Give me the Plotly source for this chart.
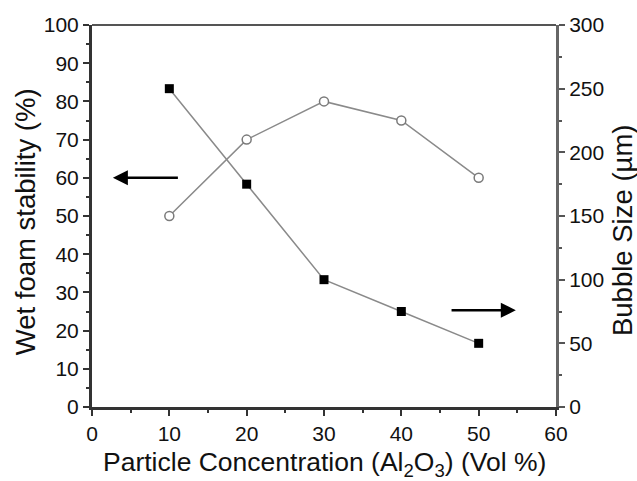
import plotly.graph_objects as go

concentration = [10, 20, 30, 40, 50]
wet_foam_stability = [50, 70, 80, 75, 60]
bubble_size = [250, 175, 100, 75, 50]

x_title = "Particle Concentration (Al<sub>2</sub>O<sub>3</sub>) (Vol %)"
y_title = "Wet foam stability (%)"
y2_title = "Bubble Size (\u00b5m)"

FONT = "Liberation Sans, Arial, sans-serif"

fig = go.Figure()
fig.add_trace(go.Scatter(
    x=concentration, y=wet_foam_stability, mode="lines+markers",
    line=dict(color="#8a8a8a", width=1.5),
    marker=dict(symbol="circle", size=9, color="white", line=dict(color="#7a7a7a", width=1.5)),
    showlegend=False, yaxis="y", cliponaxis=False))
fig.add_trace(go.Scatter(
    x=concentration, y=bubble_size, mode="lines+markers",
    line=dict(color="#8a8a8a", width=1.5),
    marker=dict(symbol="square", size=9, color="black", line=dict(color="black", width=0)),
    showlegend=False, yaxis="y2", cliponaxis=False))

tickfont = dict(family=FONT, size=21, color="#111")

fig.update_layout(
    width=637, height=481,
    margin=dict(l=92, r=81, t=25, b=74, autoexpand=False),
    paper_bgcolor="white", plot_bgcolor="white",
    xaxis=dict(range=[0, 60], dtick=10, tick0=0, showgrid=False, zeroline=False,
               showline=True, linecolor="#333", linewidth=3, automargin=False,
               ticks="outside", ticklen=6, tickwidth=2, tickcolor="#333",
               minor=dict(dtick=5, ticks="outside", ticklen=3, tickwidth=2, tickcolor="#333"),
               tickfont=tickfont),
    yaxis=dict(range=[0, 100], dtick=10, tick0=0, showgrid=False, zeroline=False,
               showline=True, linecolor="#333", linewidth=3, automargin=False,
               ticks="outside", ticklen=6, tickwidth=2, tickcolor="#333",
               minor=dict(dtick=5, ticks="outside", ticklen=3, tickwidth=2, tickcolor="#333"),
               tickfont=tickfont),
    yaxis2=dict(range=[0, 300], dtick=50, tick0=0, overlaying="y", side="right",
                showgrid=False, zeroline=False, automargin=False,
                showline=True, linecolor="#666", linewidth=3,
                ticks="outside", ticklen=6, tickwidth=2, tickcolor="#555",
                minor=dict(dtick=25, ticks="outside", ticklen=3, tickwidth=2, tickcolor="#555"),
                tickfont=tickfont),
)

# axis titles
fig.add_annotation(text=x_title, xref="paper", yref="paper", x=0.5, y=-0.148,
                   xanchor="center", yanchor="middle", showarrow=False,
                   font=dict(family=FONT, size=26.5, color="#111"))
fig.add_annotation(text=y_title, xref="paper", yref="paper", x=-0.144, y=0.484,
                   xanchor="center", yanchor="middle", showarrow=False, textangle=-90,
                   font=dict(family=FONT, size=27.5, color="#111"))
fig.add_annotation(text=y2_title, xref="paper", yref="paper", x=1.142, y=0.463,
                   xanchor="center", yanchor="middle", showarrow=False, textangle=-90,
                   font=dict(family=FONT, size=27.5, color="#111"))

# top frame line
fig.add_shape(type="line", xref="paper", yref="paper", x0=0, x1=1, y0=1, y1=1,
              line=dict(color="#555", width=2))

# arrows
fig.add_annotation(x=2.7, y=60, ax=11.3, ay=60, xref="x", yref="y", axref="x", ayref="y",
                   showarrow=True, arrowhead=2, arrowsize=1.2, arrowwidth=2.5,
                   arrowcolor="black", text="")
fig.add_annotation(x=54.8, y=76, ax=46.3, ay=76, xref="x", yref="y2", axref="x", ayref="y2",
                   showarrow=True, arrowhead=2, arrowsize=1.2, arrowwidth=2.5,
                   arrowcolor="black", text="")

fig.write_html("out.html", config={"displayModeBar": False},
               post_script="document.body.style.margin='0';document.body.style.overflow='hidden';")
